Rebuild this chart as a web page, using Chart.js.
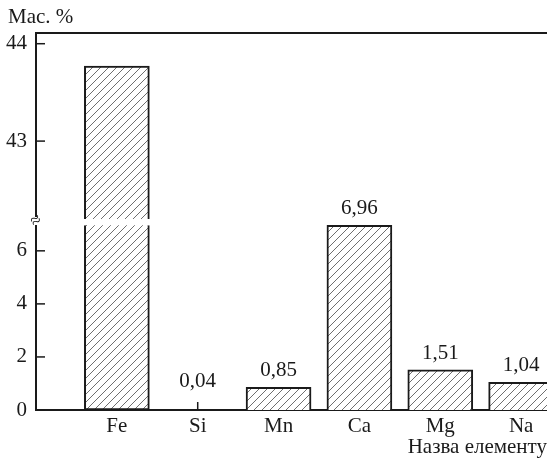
<!DOCTYPE html>
<html>
<head>
<meta charset="utf-8">
<script src="https://cdn.jsdelivr.net/npm/chart.js@4.4.0/dist/chart.umd.min.js"></script>
<style>
  html, body { margin: 0; padding: 0; background: #fff; }
</style>
</head>
<body>
<canvas id="c" width="547" height="464"></canvas>
<script>
// ----------------------------------------------------
const elements = [ 'Fe', 'Si', 'Mn', 'Ca', 'Mg', 'Na' ];
const massPct = [ 43.77, 0.04, 0.85, 6.96, 1.51, 1.04 ];
const lowTicks = [ 0, 2, 4, 6 ];
const highTicks = [ 43, 44 ];
const lowRange = [ 0, 7.2 ];
const highRange = [ 42.2, 44.11 ];
const lowCut = 6.96;            // where the broken Fe bar stops in the lower part
// ----------------------------------------------------
const ink = '#1a1a1a';
const serif = { family: 'Liberation Serif', size: 21, lineHeight: 1 };
const xs = elements.map( ( e, i ) => i + 1 );
const isBroken = v => v > highRange[ 0 ];
const isTiny = v => v < 0.1;
//
function makeHatch() {
    const c = document.createElement( 'canvas' );
    c.width = 8; c.height = 8;
    const g = c.getContext( '2d' );
    g.fillStyle = '#fff';
    g.fillRect( 0, 0, 8, 8 );
    g.strokeStyle = '#555';
    g.lineWidth = 0.85;
    g.beginPath();
    g.moveTo( 0, 8 ); g.lineTo( 8, 0 );
    g.moveTo( -2, 2 ); g.lineTo( 2, -2 );
    g.moveTo( 6, 10 ); g.lineTo( 10, 6 );
    g.stroke();
    return g.createPattern( c, 'repeat' );
}
const hatch = makeHatch();
//
const fixTicks = list => scale => { scale.ticks = list.map( v => ({ value: v }) ); };
//
const decor = {
    id: 'decor',
    afterDatasetsDraw( chart ) {
        const { ctx, chartArea, scales } = chart;
        const line = ( x1, y1, x2, y2 ) => { ctx.beginPath(); ctx.moveTo( x1, y1 ); ctx.lineTo( x2, y2 ); ctx.stroke(); };
        ctx.save();
        ctx.strokeStyle = ink;
        ctx.lineWidth = 1.5;
        // inward tick marks
        [ scales.yLow, scales.yHigh ].forEach( s => s.ticks.forEach( t => {
            const y = s.getPixelForValue( t.value );
            line( chartArea.left, y, chartArea.left + 9, y );
        }));
        const base = scales.yLow.getPixelForValue( 0 );
        const meta = chart.getDatasetMeta( 0 );
        // tiny value drawn as a stroke
        meta.data.forEach( ( bar, i ) => {
            if ( isTiny( massPct[ i ] ) ) line( bar.x, base, bar.x, base - 8 );
        });
        // value labels
        ctx.fillStyle = ink;
        ctx.font = '21px "Liberation Serif"';
        ctx.textAlign = 'center';
        ctx.textBaseline = 'alphabetic';
        meta.data.forEach( ( bar, i ) => {
            const v = massPct[ i ];
            if ( isBroken( v ) ) return;
            const top = Math.min( bar.y, base - 12 );
            ctx.fillText( v.toFixed( 2 ).replace( '.', ',' ), bar.x, top - 11 );
        });
        // axis break mark
        const yb = scales.yLow.top + 2;
        ctx.fillStyle = '#fff';
        ctx.fillRect( chartArea.left - 2, yb - 4, 4, 8 );
        ctx.fillStyle = ink;
        ctx.font = '18px "Liberation Serif"';
        ctx.textBaseline = 'middle';
        ctx.save();
        ctx.translate( chartArea.left, yb );
        ctx.rotate( -0.5 );
        ctx.fillText( '\u2248', 0, 0 );
        ctx.restore();
        // y title
        ctx.textAlign = 'left';
        ctx.font = '21px "Liberation Serif"';
        ctx.fillText( 'Мас. %', 8, 17 );
        ctx.restore();
    }
};
//
const yCommon = {
    type: 'linear',
    position: 'left',
    stack: 'y',
    grid: { display: false, drawTicks: false },
    border: { display: true, color: ink, width: 2 },
    ticks: { font: serif, color: ink, padding: 9, includeBounds: false },
    afterFit: s => { s.width = 36; }
};
//
new Chart( document.getElementById( 'c' ), {
    type: 'bar',
    data: {
        datasets: [
            {
                label: 'low',
                xAxisID: 'x',
                yAxisID: 'yLow',
                data: massPct.map( ( v, i ) => ({ x: xs[ i ], y: isBroken( v ) ? lowCut : v }) ),
                backgroundColor: c => isTiny( massPct[ c.dataIndex ] ) ? 'rgba(0,0,0,0)' : hatch,
                borderColor: ink,
                borderWidth: c => isTiny( massPct[ c.dataIndex ] ) ? 0 : 2,
                borderSkipped: c => isBroken( massPct[ c.dataIndex ] ) ? 'top' : 'bottom'
            },
            {
                label: 'high',
                xAxisID: 'x',
                yAxisID: 'yHigh',
                data: massPct.map( ( v, i ) => isBroken( v ) ? { x: xs[ i ], y: [ highRange[ 0 ], v ] } : null ).filter( Boolean ),
                backgroundColor: hatch,
                borderColor: ink,
                borderWidth: 2,
                borderSkipped: 'bottom'
            }
        ]
    },
    options: {
        responsive: false,
        animation: false,
        grouped: false,
        barThickness: 65,
        layout: { padding: { top: 33, left: 0, right: 0, bottom: 0 } },
        plugins: { legend: { display: false }, tooltip: { enabled: false } },
        scales: {
            x: {
                type: 'linear',
                position: 'bottom',
                offset: false,
                min: 0,
                max: 6.32,
                afterBuildTicks: fixTicks( xs ),
                grid: { display: false, drawTicks: false },
                border: { display: true, color: ink, width: 2 },
                ticks: { font: serif, color: ink, padding: 6, autoSkip: false, maxRotation: 0,
                         callback: v => elements[ Math.round( v ) - 1 ] },
                title: { display: true, text: 'Назва елементу', align: 'end', font: serif, color: ink,
                         padding: { top: -6.5, bottom: 6.5 } }
            },
            xTop: {
                type: 'linear',
                position: 'top',
                offset: false,
                min: 0,
                max: 6.32,
                grid: { display: false, drawTicks: false },
                ticks: { display: false },
                border: { display: true, color: ink, width: 2 }
            },
            yLow: Object.assign( {}, yCommon, {
                min: lowRange[ 0 ], max: lowRange[ 1 ], stackWeight: 191,
                afterBuildTicks: fixTicks( lowTicks )
            }),
            yHigh: Object.assign( {}, yCommon, {
                min: highRange[ 0 ], max: highRange[ 1 ], stackWeight: 186,
                afterBuildTicks: fixTicks( highTicks )
            })
        }
    },
    plugins: [ decor ]
});
</script>
</body>
</html>
